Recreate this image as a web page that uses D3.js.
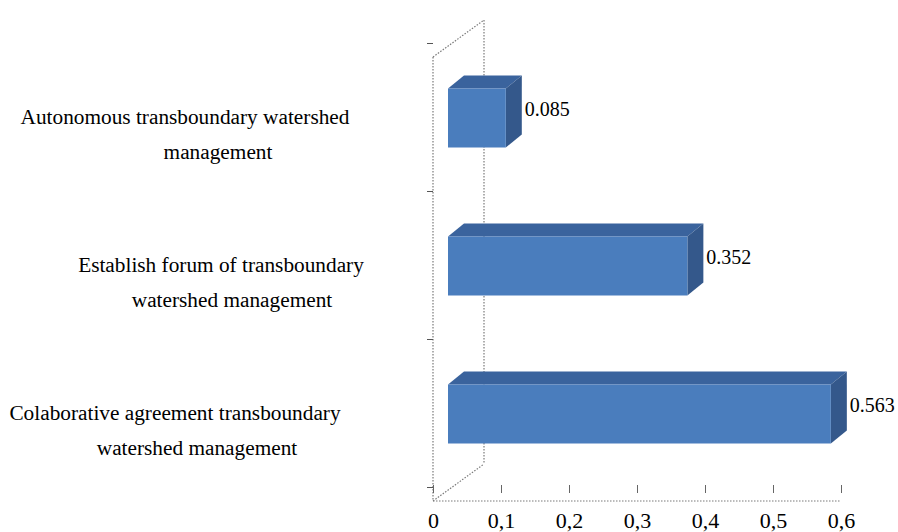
<!DOCTYPE html>
<html>
<head>
<meta charset="utf-8">
<script src="https://cdn.jsdelivr.net/npm/d3@7"></script>
<style>
  body { margin: 0; background: #fff; }
  svg { display: block; font-family: "Liberation Serif", "Times New Roman", serif; }
</style>
</head>
<body>
<svg id="chart" width="898" height="532"></svg>
<script>
// data, top bar first
const categories = [
  "Autonomous transboundary watershed management",
  "Establish forum of transboundary watershed management",
  "Colaborative agreement transboundary watershed management"
];
const categoryLines = [
  ["Autonomous transboundary watershed", "management"],
  ["Establish forum of transboundary", "watershed management"],
  ["Colaborative agreement transboundary", "watershed management"]
];
const values = [0.085, 0.352, 0.563];
const valueLabels = ["0.085", "0.352", "0.563"];
const tickValues = [0, 0.1, 0.2, 0.3, 0.4, 0.5, 0.6];
const tickLabels = ["0", "0,1", "0,2", "0,3", "0,4", "0,5", "0,6"];

// label line centres (layout only)
const labelCx = [[185, 218], [221, 232], [175, 197]];

const svg = d3.select("#chart");
const wallColor = "#7a7a7a";

const x = d3.scaleLinear().domain([0, 0.6]).range([433, 841]);
const y = d3.scaleBand().domain(categories).range([43, 487]);
const yTick = d3.scaleLinear().domain([0, categories.length]).range([43, 487]);

// 3d offsets
const wallDx = 51, wallDy = -37;
const barShift = 15, depthX = 16, depthY = -13;
const barH = 59;

// side wall (dotted)
const x0 = x(0), yTop = 57, yBot = 501;
const wall = svg.append("g")
  .attr("fill", "none")
  .attr("stroke", wallColor)
  .attr("stroke-width", 1.2)
  .attr("stroke-dasharray", "1.5,1.5");
wall.append("path").attr("d", `M${x0},${yTop}L${x0},${yBot}`);
wall.append("path").attr("d", `M${x0 + wallDx},${yTop + wallDy}L${x0 + wallDx},${yBot + wallDy}`);
wall.append("path").attr("d", `M${x0},${yTop}L${x0 + wallDx},${yTop + wallDy}`);
wall.append("path").attr("d", `M${x0},${yBot}L${x0 + wallDx},${yBot + wallDy}`);
// floor front edge
wall.append("path").attr("d", `M${x0},${yBot}L${x(0.6)},${yBot}`);

// category ticks
svg.append("g")
  .attr("transform", `translate(${x0},0)`)
  .call(d3.axisLeft(yTick).tickValues(d3.range(categories.length + 1)).tickSize(6).tickFormat(""))
  .call(g => g.select(".domain").remove())
  .call(g => g.selectAll("line").attr("stroke", "#555"));

// value axis
svg.append("g")
  .attr("transform", "translate(0,485)")
  .call(d3.axisBottom(x).tickValues(tickValues).tickSize(8)
    .tickFormat((d, i) => tickLabels[i]))
  .call(g => g.select(".domain").remove())
  .call(g => g.selectAll("line").attr("stroke", "#666"))
  .call(g => g.selectAll("text")
    .attr("y", 43).attr("dy", null)
    .attr("font-size", 22)
    .attr("font-family", "Liberation Serif, Times New Roman, serif")
    .attr("fill", "#000"));

// bars
const bars = svg.append("g").selectAll("g")
  .data(values)
  .join("g");

bars.each(function (v, i) {
  const g = d3.select(this);
  const cy = y(categories[i]) + y.bandwidth() / 2 + 1;
  const xl = x(0) + barShift;
  const xr = x(v) + barShift;
  const t = cy - barH / 2, b = cy + barH / 2;
  // top face
  g.append("path")
    .attr("d", `M${xl},${t}L${xl + depthX},${t + depthY}L${xr + depthX},${t + depthY}L${xr},${t}Z`)
    .attr("fill", "#3a639d");
  // side face
  g.append("path")
    .attr("d", `M${xr},${t}L${xr + depthX},${t + depthY}L${xr + depthX},${b + depthY}L${xr},${b}Z`)
    .attr("fill", "#34588b");
  // front face
  g.append("rect")
    .attr("x", xl).attr("y", t)
    .attr("width", xr - xl).attr("height", barH)
    .attr("fill", "#4a7dbd");
  // value label
  g.append("text")
    .attr("x", xr + depthX + 3)
    .attr("y", cy - 2)
    .attr("font-size", 20)
    .attr("fill", "#000")
    .text(valueLabels[i]);
});

// category labels
const cat = svg.append("g").selectAll("g")
  .data(categoryLines)
  .join("g");
cat.each(function (lines, i) {
  const cy = y(categories[i]) + y.bandwidth() / 2;
  d3.select(this).selectAll("text")
    .data(lines)
    .join("text")
    .attr("x", (d, j) => labelCx[i][j])
    .attr("y", (d, j) => cy + 7 + j * 34.5)
    .attr("text-anchor", "middle")
    .attr("font-size", 21.3)
    .attr("fill", "#000")
    .text(d => d);
});
</script>
</body>
</html>
